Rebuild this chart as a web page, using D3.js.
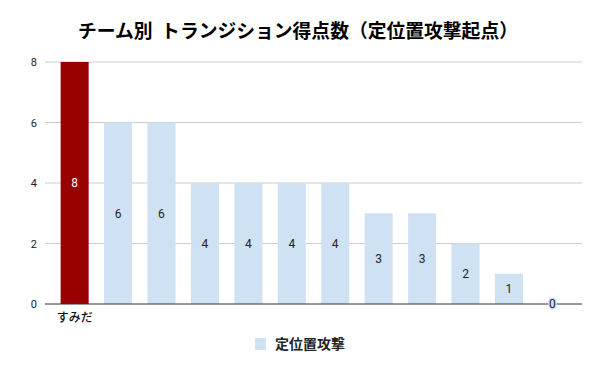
<!DOCTYPE html>
<html>
<head>
<meta charset="utf-8">
<script src="https://cdn.jsdelivr.net/npm/d3@7"></script>
<style>
    body { margin: 0; background: #fff; }
    svg { display: block; }
</style>
</head>
<body>
<div id="chart"></div>
<script>
// chart data
var title = "チーム別  トランジション得点数（定位置攻撃起点）";
var seriesName = "定位置攻撃";
var teams = ["すみだ", "", "", "", "", "", "", "", "", "", "", ""];
var goals = [8, 6, 6, 4, 4, 4, 4, 3, 3, 2, 1, 0];
var highlight = [true, false, false, false, false, false, false, false, false, false, false, false];
var yTicks = [0, 2, 4, 6, 8];

var width = 600, height = 371;
var margin = {top: 62, right: 18, bottom: 67, left: 45};
var jpFont = "'Noto Sans CJK JP', 'Noto Sans', sans-serif";
var numFont = "Roboto, Arial, sans-serif";

var svg = d3.select("#chart")
    .append("svg")
    .attr("width", width)
    .attr("height", height);

var xScale = d3.scaleBand()
    .domain(d3.range(teams.length))
    .range([margin.left, width - margin.right])
    .paddingInner(0.355)
    .paddingOuter(0.36);

var yScale = d3.scaleLinear()
    .domain([0, 8])
    .range([height - margin.bottom, margin.top]);

// gridlines
svg.append("g")
    .selectAll("line")
    .data(yTicks.filter(function(d) { return d > 0; }))
    .enter().append("line")
    .attr("x1", margin.left)
    .attr("x2", width - margin.right)
    .attr("y1", function(d) { return yScale(d); })
    .attr("y2", function(d) { return yScale(d); })
    .attr("stroke", "#cccccc")
    .attr("stroke-width", 1);

// y axis labels
var yAxis = d3.axisLeft(yScale)
    .tickValues(yTicks)
    .tickSize(0)
    .tickPadding(8);

var gy = svg.append("g")
    .attr("transform", "translate(" + margin.left + ",0)")
    .call(yAxis);
gy.select(".domain").remove();
gy.selectAll("text")
    .attr("font-family", numFont)
    .attr("font-size", 11)
    .attr("fill", "#222");

// bars
svg.append("g")
    .selectAll("rect")
    .data(goals)
    .enter().append("rect")
    .attr("x", function(d, i) { return xScale(i); })
    .attr("y", function(d) { return yScale(d); })
    .attr("width", xScale.bandwidth())
    .attr("height", function(d) { return yScale(0) - yScale(d); })
    .attr("fill", function(d, i) { return highlight[i] ? "#990000" : "#cfe2f3"; });

// baseline
svg.append("line")
    .attr("x1", margin.left)
    .attr("x2", width - margin.right)
    .attr("y1", yScale(0))
    .attr("y2", yScale(0))
    .attr("stroke", "#333333")
    .attr("stroke-width", 1);

// value labels
svg.append("g")
    .selectAll("text")
    .data(goals)
    .enter().append("text")
    .attr("x", function(d, i) { return xScale(i) + xScale.bandwidth() / 2; })
    .attr("y", function(d) { return yScale(d / 2); })
    .attr("dy", "0.36em")
    .attr("text-anchor", "middle")
    .attr("font-family", numFont)
    .attr("font-size", 12)
    .attr("fill", function(d, i) { return highlight[i] ? "#ffffff" : "#222222"; })
    .attr("stroke", function(d) { return d === 0 ? "#cfe2f3" : "none"; })
    .attr("stroke-width", 3)
    .attr("paint-order", "stroke")
    .text(function(d) { return d; });

// x axis labels
var xAxis = d3.axisBottom(xScale)
    .tickSize(0)
    .tickPadding(9)
    .tickFormat(function(i) { return teams[i]; });

var gx = svg.append("g")
    .attr("transform", "translate(0," + yScale(0) + ")")
    .call(xAxis);
gx.select(".domain").remove();
gx.selectAll("text")
    .attr("font-family", jpFont)
    .attr("font-size", 12)
    .attr("font-weight", 500)
    .attr("fill", "#111");

// title
svg.append("text")
    .attr("x", 298)
    .attr("y", 38)
    .attr("text-anchor", "middle")
    .attr("font-family", jpFont)
    .attr("font-weight", "bold")
    .attr("font-size", 18.8)
    .attr("fill", "#000")
    .style("white-space", "pre")
    .text(title);

// legend
var legend = svg.append("g");
legend.append("rect")
    .attr("x", 255)
    .attr("y", 338)
    .attr("width", 11)
    .attr("height", 12)
    .attr("fill", "#cfe2f3");
legend.append("text")
    .attr("x", 275)
    .attr("y", 344)
    .attr("dy", "0.36em")
    .attr("font-family", jpFont)
    .attr("font-weight", "bold")
    .attr("font-size", 14)
    .attr("fill", "#222")
    .text(seriesName);
</script>
</body>
</html>
